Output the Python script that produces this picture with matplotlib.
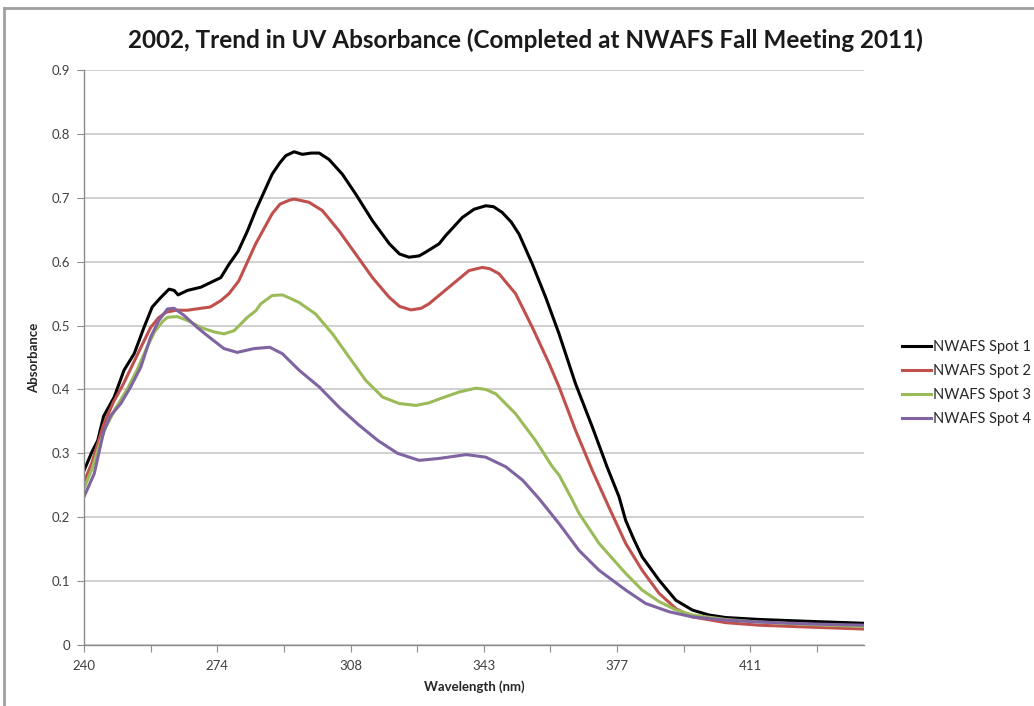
import matplotlib
matplotlib.use("Agg")
import matplotlib.pyplot as plt
from matplotlib.lines import Line2D

# ---- data ----
wl1 = [240, 242, 243.5, 245, 247.7, 250.2, 252.8, 255.3, 257.4, 259.6, 261.7, 263, 264, 266.4, 269.8,
       273.2, 274.9, 277, 279.3, 281.7, 283.8, 286, 288, 290, 291.5, 293.6, 295.7, 298, 300, 302.5,
       305.9, 309.3, 313.6, 317.9, 320.5, 322.9, 325.5, 327.2, 330.6, 332.3, 336.5, 339.5, 342.5,
       344.5, 346.7, 349, 351, 354.4, 357.8, 361.2, 365.4, 369.7, 373.5, 376.5, 378.2, 380.3, 382.4,
       386.7, 391, 395.2, 399.4, 403.7, 412.2, 425, 439]
spot1 = [0.273, 0.302, 0.320, 0.358, 0.388, 0.430, 0.456, 0.497, 0.529, 0.544, 0.557, 0.555, 0.548, 0.555,
         0.560, 0.570, 0.575, 0.596, 0.616, 0.648, 0.680, 0.710, 0.737, 0.755, 0.766, 0.772, 0.768, 0.770,
         0.770, 0.760, 0.737, 0.706, 0.664, 0.628, 0.612, 0.607, 0.609, 0.615, 0.628, 0.641, 0.669, 0.682,
         0.6875, 0.686, 0.677, 0.662, 0.643, 0.596, 0.544, 0.487, 0.409, 0.341, 0.278, 0.232, 0.195, 0.165,
         0.138, 0.1016, 0.070, 0.0547, 0.047, 0.043, 0.040, 0.037, 0.034]

wl2 = [240, 242, 245, 247.5, 250, 252.5, 255, 257, 259, 261, 263.5, 266.4, 269.8, 272.2, 274.9, 277,
       279.5, 283.8, 288, 290, 292.3, 293.6, 297.4, 300.8, 305.1, 309.3, 313.6, 317.9, 320.5, 323.4,
       326, 328, 333.1, 338.2, 341.6, 343.5, 345.9, 350.1, 354.4, 358.7, 361.2, 363, 365.4, 369.7,
       373.9, 378.2, 382.4, 386.7, 391, 395.2, 403.7, 412.2, 425, 439]
spot2 = [0.255, 0.285, 0.345, 0.380, 0.408, 0.440, 0.472, 0.497, 0.512, 0.521, 0.524, 0.524, 0.527, 0.529,
         0.539, 0.550, 0.570, 0.628, 0.675, 0.690, 0.696, 0.698, 0.693, 0.680, 0.648, 0.612, 0.575, 0.544,
         0.530, 0.5245, 0.527, 0.534, 0.560, 0.586, 0.591, 0.589, 0.581, 0.550, 0.497, 0.440, 0.404, 0.375,
         0.336, 0.273, 0.216, 0.159, 0.117, 0.081, 0.057, 0.044, 0.035, 0.031, 0.028, 0.025]

wl3 = [240, 242, 244, 245.5, 248, 251, 253.5, 256, 258, 260, 261.3, 263.8, 266.4, 269.8, 273.2, 275.7,
       278.3, 281.7, 283.8, 285.1, 288, 290.6, 292.5, 294.9, 299.1, 303.4, 307.7, 311.9, 316.2, 320.4,
       324.7, 328, 330.6, 335.7, 340, 342.5, 345.1, 350.1, 355.2, 359.5, 361.2, 364.5, 366.3, 371.4,
       378.2, 382.4, 386.7, 391, 395.2, 403.7, 412.2, 425, 439]
spot3 = [0.245, 0.275, 0.315, 0.340, 0.370, 0.400, 0.430, 0.465, 0.490, 0.506, 0.513, 0.514, 0.508, 0.497,
         0.490, 0.487, 0.492, 0.513, 0.523, 0.534, 0.547, 0.548, 0.543, 0.536, 0.518, 0.487, 0.450, 0.414,
         0.388, 0.378, 0.375, 0.379, 0.385, 0.396, 0.402, 0.400, 0.393, 0.362, 0.320, 0.279, 0.266, 0.228,
         0.206, 0.159, 0.112, 0.086, 0.068, 0.055, 0.047, 0.040, 0.036, 0.032, 0.029]

wl4 = [240, 242.6, 245.1, 246.8, 249.4, 251.9, 254.5, 257, 259.1, 261.3, 263, 265.5, 268.9, 271.5,
       275.7, 279.1, 283.4, 287.4, 290.6, 294.9, 300, 305.1, 310, 315, 320, 325.5, 330.6, 337.5, 342.5,
       347.6, 351.9, 356.1, 361.2, 366.3, 371.4, 378.2, 383.3, 389.3, 395.2, 403.7, 412.2, 425, 439]
spot4 = [0.232, 0.268, 0.336, 0.359, 0.378, 0.404, 0.435, 0.482, 0.508, 0.526, 0.527, 0.516, 0.497, 0.484,
         0.464, 0.458, 0.464, 0.466, 0.456, 0.430, 0.404, 0.372, 0.345, 0.320, 0.300, 0.289, 0.292, 0.298,
         0.294, 0.279, 0.258, 0.229, 0.190, 0.148, 0.117, 0.086, 0.065, 0.052, 0.044, 0.039, 0.036, 0.033,
         0.031]

series_names = ["NWAFS Spot 1", "NWAFS Spot 2", "NWAFS Spot 3", "NWAFS Spot 4"]
series_colors = ["#000000", "#C0504D", "#9BBB59", "#8064A2"]

x_ticks = [240, 257, 274, 291, 308, 325, 342, 359, 376, 393, 410, 427]
x_tick_labels = ["240", "", "274", "", "308", "", "343", "", "377", "", "411", ""]
y_ticks = [0, 0.1, 0.2, 0.3, 0.4, 0.5, 0.6, 0.7, 0.8, 0.9]
y_tick_labels = ["0", "0.1", "0.2", "0.3", "0.4", "0.5", "0.6", "0.7", "0.8", "0.9"]

title = "2002, Trend in UV Absorbance (Completed at NWAFS Fall Meeting 2011)"

# ---- figure ----
plt.rcParams['font.family'] = ['Lato', 'DejaVu Sans']
fig = plt.figure(figsize=(10.34, 7.06), dpi=100)
ax = fig.add_axes([84 / 1034, 1 - 645 / 706, (864 - 84) / 1034, (645 - 70) / 706])

for wl, vals, name, col in zip([wl1, wl2, wl3, wl4], [spot1, spot2, spot3, spot4],
                               series_names, series_colors):
    ax.plot(wl, vals, color=col, lw=2.2, label=name, solid_joinstyle='round')

ax.set_xlim(240, 439)
ax.set_ylim(0, 0.9)
ax.set_xticks(x_ticks)
ax.set_xticklabels(x_tick_labels)
ax.set_yticks(y_ticks)
ax.set_yticklabels(y_tick_labels)
ax.yaxis.grid(True, color="#c4c4c4", lw=1.1)
ax.set_axisbelow(True)
for s in ["top", "right"]:
    ax.spines[s].set_visible(False)
for s in ["left", "bottom"]:
    ax.spines[s].set_color("#8c8c8c")
    ax.spines[s].set_linewidth(1.0)
ax.tick_params(axis="both", direction="out", length=5, color="#8c8c8c",
               labelsize=9.5, labelcolor="#404040")
ax.tick_params(axis="x", pad=6)
ax.tick_params(axis="y", pad=5)

ax.set_xlabel("Wavelength (nm)", fontsize=9.5, fontweight="bold", color="#262626", labelpad=6)
ax.set_ylabel("Absorbance", fontsize=9.5, fontweight="bold", color="#262626", labelpad=8)

fig.text(0.508, 0.943, title, ha="center", va="center", fontsize=17.5, fontweight="bold",
         color="#1a1a1a")

handles = [Line2D([0], [0], color=c, lw=2.2) for c in series_colors]
fig.legend(handles, series_names, loc="center left", bbox_to_anchor=(889 / 1034, 1 - 383 / 706),
           frameon=False, fontsize=10.5, handlelength=2.0, handletextpad=0.1, labelspacing=0.7,
           labelcolor="#262626")

# chart frame (top and left edges visible in the crop)
fig.add_artist(Line2D([4 / 1034, 4 / 1034], [0, 1 - 8 / 706], transform=fig.transFigure,
                      color="#a0a0a0", lw=2))
fig.add_artist(Line2D([4 / 1034, 1], [1 - 8 / 706, 1 - 8 / 706], transform=fig.transFigure,
                      color="#a0a0a0", lw=2))

fig.savefig("out.png", dpi=100)
